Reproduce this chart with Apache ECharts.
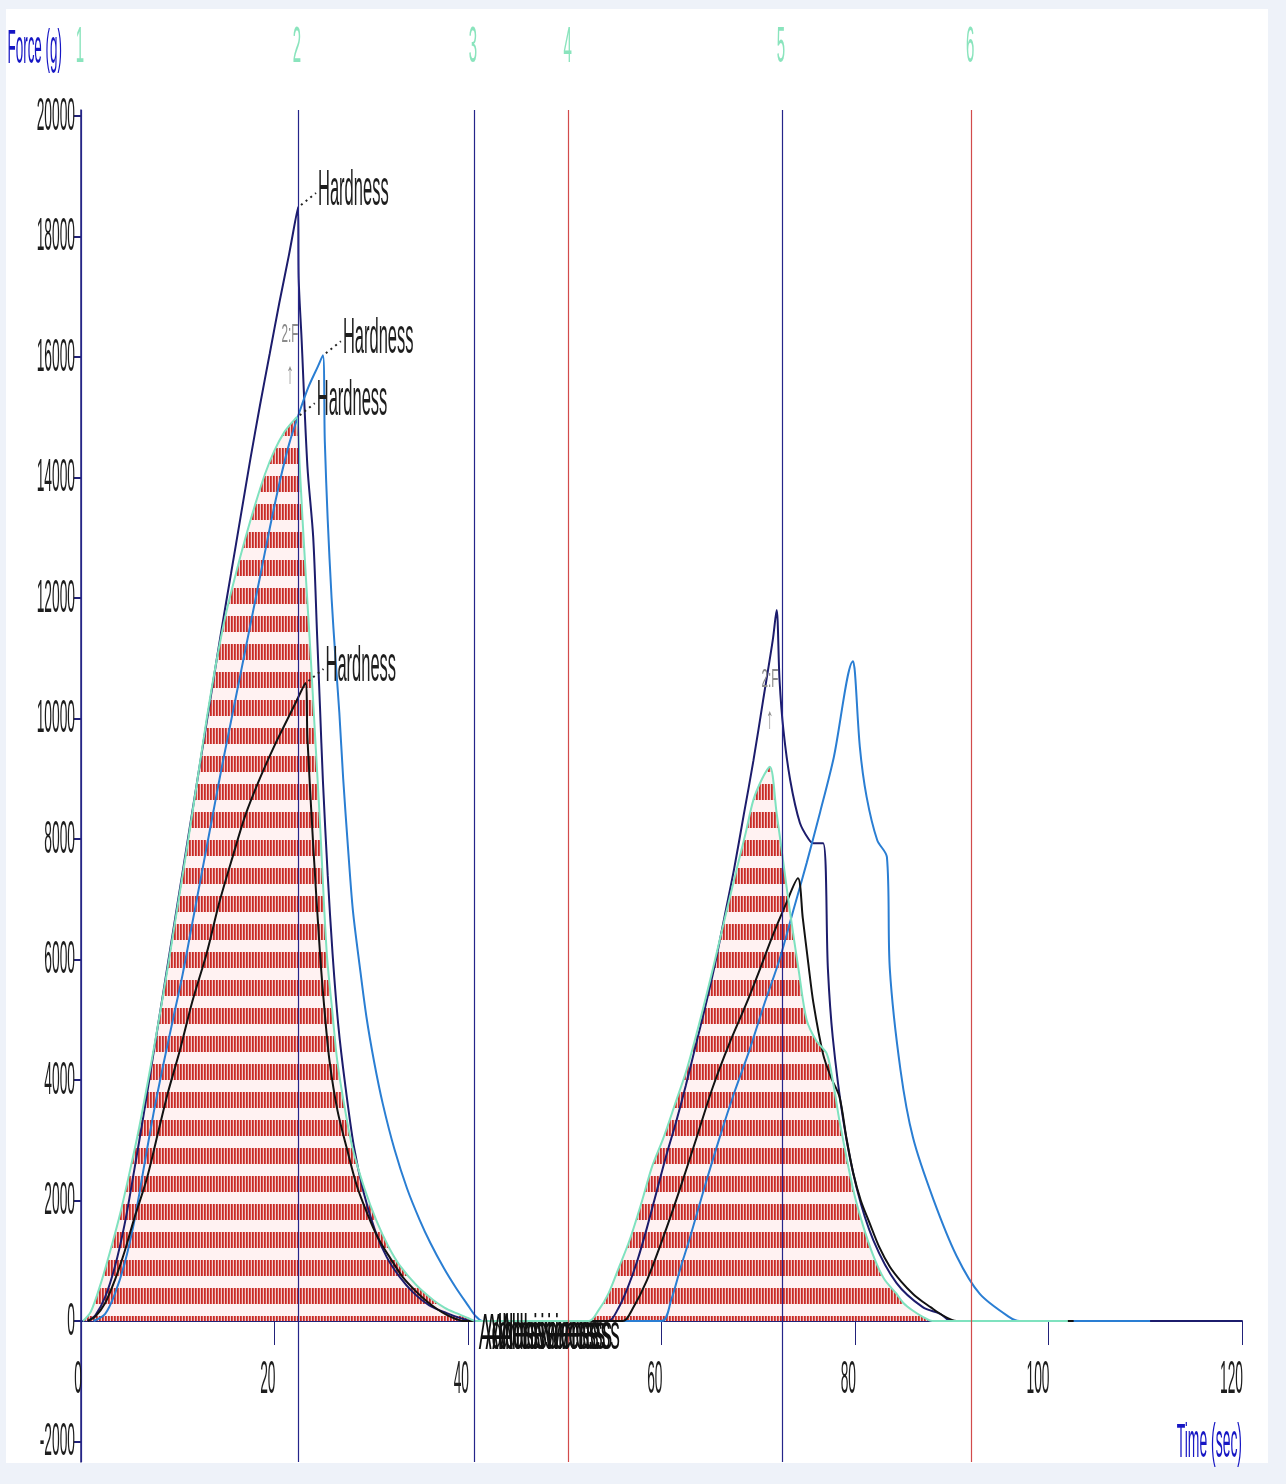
<!DOCTYPE html>
<html>
<head>
<meta charset="utf-8">
<script src="https://cdn.jsdelivr.net/npm/echarts@6/dist/echarts.min.js"></script>
<style>
  html, body { margin: 0; padding: 0; background: #eef2f9; }
  #panel { position: absolute; left: 6px; top: 9px; width: 1262px; height: 1454px; background: #fff; }
  #chart { position: absolute; left: 0; top: 0; width: 1286px; height: 1484px; }
</style>
</head>
<body>
<div id="panel"></div>
<div id="chart"></div>
<script>
// time (sec), force (g) pairs
const navyCurve = [
  [0.7, 0], [1.5, 100], [2.5, 400], [3.5, 900], [4.5, 1600], [5.5, 2500], [6.5, 3450], [7.5, 4450],
  [8.5, 5450], [9.5, 6450], [10.5, 7450], [11.5, 8450], [12.5, 9450], [13.5, 10450], [14.5, 11450],
  [15.5, 12400], [16.5, 13350], [17.5, 14300], [18.5, 15200], [19.5, 16050], [20.5, 16900],
  [21.5, 17700], [22.43, 18490],
  [22.5, 17300], [22.8, 16300], [23.4, 14190], [24, 13010], [24.4, 11400], [24.7, 10200], [25, 8980],
  [25.5, 7400], [26, 6100], [26.6, 4900], [27.3, 3930], [28.2, 2900], [29.2, 2140], [30.4, 1500],
  [31.6, 1060], [32.9, 740], [34.3, 480], [36, 260], [37.8, 130], [39, 60], [40.5, 0],
  [54.5, 0], [55.5, 200], [56.5, 550], [57.5, 1000], [58.5, 1550], [59.5, 2150], [60.5, 2750],
  [61.5, 3300], [62.5, 3900], [63.5, 4550], [64.5, 5200], [65.5, 5900], [66.5, 6700], [67.5, 7500],
  [68.5, 8400], [69.5, 9300], [70.5, 10300], [71.5, 11300], [71.9, 11800],
  [72.2, 10640], [72.6, 9810], [73.3, 8980], [74.3, 8270], [75.2, 8000], [75.7, 7930], [76.7, 7930],
  [77.2, 5840], [77.7, 4710], [78.8, 3320], [80.2, 2190], [81.9, 1340], [84.3, 630], [87, 230],
  [88.8, 120], [90, 0], [120, 0]
];

const blueCurve = [
  [1.3, 0], [2.5, 120], [3.5, 450], [4.5, 950], [5.5, 1650], [6.5, 2550], [7.5, 3450], [8.5, 4250],
  [9.5, 5000], [10.5, 5750], [11.5, 6600], [12.5, 7450], [13.5, 8300], [14.5, 9150], [15.5, 9950],
  [16.5, 10750], [17.5, 11550], [18.5, 12350], [19.5, 13150], [20.5, 13900], [21.5, 14550],
  [22.5, 15050], [23.5, 15500], [24.5, 15850], [25, 16030],
  [25.2, 14600], [25.5, 13300], [25.9, 12000], [26.3, 11000], [26.7, 10100], [27.1, 9000],
  [27.6, 7850], [28.1, 6820], [28.8, 5900], [29.5, 5050], [30.3, 4300], [31.2, 3600], [32.4, 2850],
  [33.7, 2200], [35, 1680], [36.1, 1300], [37.5, 880], [38.8, 540], [40, 260], [40.8, 80], [41.5, 0],
  [60, 0], [61, 350], [62, 900], [62.9, 1360], [64.5, 2250], [66, 3040], [67.5, 3780], [69.1, 4500],
  [70.6, 5250], [72.2, 6000], [73.6, 6800], [75, 7600], [76.4, 8450], [77.8, 9350], [79.8, 10950],
  [80, 10750], [80.5, 9530], [81.2, 8700], [82.3, 7980], [83.3, 7700], [83.6, 5840], [84.7, 4170],
  [86, 3040], [88.1, 2020], [90.5, 1080], [92.9, 450], [96, 60], [97, 0], [110.5, 0]
];

const greenCurve = [
  [0.2, 0], [1, 150], [2, 600], [3, 1150], [4, 1750], [5, 2450], [6, 3200], [7, 4050], [8, 4950],
  [9, 5900], [10, 6900], [11, 7900], [12, 8950], [13, 10000], [14, 10950], [15, 11750], [16, 12400],
  [17, 13000], [18, 13550], [19, 14050], [20, 14450], [21, 14750], [22, 14950], [22.3, 15000],
  [22.6, 14200], [22.9, 13300], [23.3, 12200], [23.7, 11140], [24.2, 9700], [24.7, 8270],
  [25.4, 6110], [26, 5100], [26.5, 4300], [27.3, 3500], [28.1, 2850], [29.3, 2200], [30.6, 1640],
  [31.8, 1230], [33, 910], [34.7, 590], [36.4, 350], [37.6, 220], [38.8, 130], [40, 50], [40.8, 0],
  [52.5, 0], [53.5, 180], [54.5, 450], [55.5, 850], [56.7, 1340], [58, 2000], [59, 2550],
  [60.2, 3040], [61.4, 3600], [62.6, 4170], [64, 5000], [65.3, 5840], [66.5, 6650], [67.8, 7520],
  [68.7, 8100], [69.5, 8650], [70.4, 9000], [71.2, 9200],
  [71.9, 8430], [72.6, 7600], [73.3, 6770], [74.2, 5800], [75, 5000], [76, 4650], [77.1, 4430],
  [77.8, 3900], [78.4, 3320], [79.8, 2190], [80.8, 1600], [81.9, 1080], [83, 700], [84.3, 450],
  [85, 300], [86, 170], [87, 70], [88, 0], [102, 0]
];

const blackCurve = [
  [0.7, 0], [1.5, 80], [2.5, 300], [3.5, 680], [4.5, 1150], [5.5, 1700], [6.8, 2360], [8, 3150],
  [9, 3800], [10.2, 4480], [11.5, 5300], [13, 6110], [14.3, 6950], [15.7, 7720], [17, 8400],
  [18.5, 9010], [20, 9550], [21.3, 9975], [22.3, 10300], [23.2, 10590],
  [23.4, 9690], [24, 7900], [24.7, 6110], [25.2, 5100], [25.7, 4300], [26.5, 3500], [27.5, 2850],
  [28.5, 2250], [29.6, 1780], [30.7, 1380], [31.9, 1060], [33.3, 720], [34.7, 480], [35.8, 320],
  [36.8, 200], [37.8, 100], [38.8, 30], [39.5, 0],
  [56, 0], [57, 200], [58.5, 680], [60.2, 1400], [61.9, 2190], [63.6, 3030], [65.3, 3880], [67, 4600],
  [68.8, 5280], [70.2, 5850], [71.5, 6400], [72.8, 6900], [74.1, 7350],
  [74.6, 6690], [75.2, 5900], [75.7, 5280], [76.7, 4430], [77.5, 4050], [78.4, 3720], [79.1, 3050],
  [79.8, 2470], [80.6, 2000], [81.5, 1630], [82.5, 1230], [83.6, 900], [84.8, 650], [86, 450],
  [87, 320], [87.8, 230], [89, 100], [90, 20], [90.5, 0], [102.6, 0]
];

const markerTimes = [0, 22.43, 40.6, 50.4, 72.45, 92.0];
const markerNames = ['1', '2', '3', '4', '5', '6'];
const redMarkers = ['4', '6'];

const hardnessPeaks = [[22.43, 18490], [25, 16030], [22.3, 15000], [23.2, 10590]];
const adhesiveAt = [40.7, 41.4, 42.1, 42.9];
const probeNotes = [[21.6, 16370], [71.2, 10640]];

const yTicks = [-2000, 0, 2000, 4000, 6000, 8000, 10000, 12000, 14000, 16000, 18000, 20000];
const xTicks = [0, 20, 40, 60, 80, 100, 120];

const NAVY = '#1c1c6c';
const AXIS = '#22227a';
const FONT = '"Liberation Sans", Arial, sans-serif';

function makeHatch() {
  const c = document.createElement('canvas');
  c.width = 3;
  c.height = 28;
  const g = c.getContext('2d');
  g.fillStyle = '#fff2f2';
  g.fillRect(0, 0, 3, 28);
  g.fillStyle = '#f2cccc';
  g.fillRect(0, 0, 3, 16);
  g.fillStyle = '#c62a26';
  g.fillRect(0, 0, 1, 16);
  g.fillStyle = '#d6504b';
  g.fillRect(1, 0, 1, 16);
  return c;
}

const chart = echarts.init(document.getElementById('chart'));

const lineSeries = (name, data, color, width) => ({
  name,
  type: 'line',
  data,
  showSymbol: false,
  symbol: 'none',
  smooth: 0.3,
  lineStyle: { color, width },
  silent: true
});

chart.setOption({
  animation: false,
  backgroundColor: 'transparent',
  grid: { left: 81, right: 44, top: 110, bottom: 22 },
  xAxis: {
    type: 'value',
    min: 0,
    max: 120,
    interval: 20,
    axisLine: { onZero: true, lineStyle: { color: AXIS, width: 2 } },
    axisTick: { length: 24, lineStyle: { color: AXIS, width: 1 } },
    axisLabel: { show: false },
    splitLine: { show: false }
  },
  yAxis: {
    type: 'value',
    min: -2340,
    max: 20100,
    axisLine: { show: true, onZero: false, lineStyle: { color: AXIS, width: 1.5 } },
    axisTick: { show: true, length: 7, customValues: yTicks, lineStyle: { color: AXIS, width: 2 } },
    axisLabel: { show: false },
    splitLine: { show: false }
  },
  series: [
    {
      name: 'hatch',
      type: 'line',
      data: greenCurve,
      showSymbol: false,
      symbol: 'none',
      smooth: 0.3,
      lineStyle: { width: 0 },
      areaStyle: { color: { image: makeHatch(), repeat: 'repeat' }, opacity: 1 },
      silent: true,
      markLine: {
        silent: true,
        symbol: ['none', 'none'],
        label: { show: false },
        data: markerTimes.map((t, i) => ({
          xAxis: t,
          lineStyle: {
            type: 'solid',
            width: 1.2,
            color: redMarkers.includes(markerNames[i]) ? '#d24b4b' : '#25258a'
          }
        }))
      }
    },
    lineSeries('A', navyCurve, NAVY, 2),
    lineSeries('B', blueCurve, '#2a7ed3', 2),
    lineSeries('D', blackCurve, '#121212', 2),
    lineSeries('C', greenCurve, '#7fe2bf', 2)
  ]
});

function txt(text, x, y, align, size, sx, color) {
  return {
    type: 'text',
    x, y,
    scaleX: sx,
    silent: true,
    z: 100,
    style: {
      text,
      fill: color,
      font: size + 'px ' + FONT,
      align,
      verticalAlign: 'middle'
    }
  };
}

function buildGraphics() {
  const px = (t, f) => chart.convertToPixel({ gridIndex: 0 }, [t, f]);
  const els = [];

  yTicks.forEach(v => {
    const p = px(0, v);
    els.push(txt(String(v), p[0] - 6, p[1] + 1, 'right', 46, 0.30, '#1e1e1e'));
  });
  xTicks.forEach(v => {
    const p = px(v, 0);
    els.push(txt(String(v), p[0] + 1, p[1] + 59, 'right', 46, 0.30, '#1e1e1e'));
  });

  const top = px(0, 20000);
  els.push(txt('Force (g)', top[0] - 19, top[1] - 66, 'right', 48, 0.28, '#1616c4'));
  const corner = px(120, -2000);
  els.push(txt('Time (sec)', corner[0], corner[1] + 2, 'right', 48, 0.29, '#1616c4'));

  markerTimes.forEach((t, i) => {
    const p = px(t, 20100);
    els.push(txt(markerNames[i], p[0] - 1, p[1] - 62, 'center', 50, 0.30, '#8ae4bd'));
  });

  hardnessPeaks.forEach(pk => {
    const p = px(pk[0], pk[1]);
    els.push({
      type: 'line',
      silent: true,
      z: 100,
      shape: { x1: p[0] + 3, y1: p[1] - 2, x2: p[0] + 18, y2: p[1] - 14 },
      style: { stroke: '#222', lineWidth: 2, lineDash: [2, 4] }
    });
    els.push(txt('Hardness', p[0] + 20, p[1] - 16, 'left', 50, 0.33, '#1e1e1e'));
  });

  adhesiveAt.forEach(t => {
    const p = px(t, 0);
    els.push(txt('Adhesiveness', p[0] + 4, p[1] + 14, 'left', 50, 0.385, '#111'));
  });

  probeNotes.forEach(n => {
    const p = px(n[0], n[1]);
    els.push(txt('2:F', p[0], p[1], 'center', 26, 0.45, '#8a8a8a'));
    els.push(txt('\u2191', p[0], p[1] + 40, 'center', 30, 0.5, '#8a8a8a'));
  });

  chart.setOption({ graphic: { elements: els } });
}

buildGraphics();
</script>
</body>
</html>
